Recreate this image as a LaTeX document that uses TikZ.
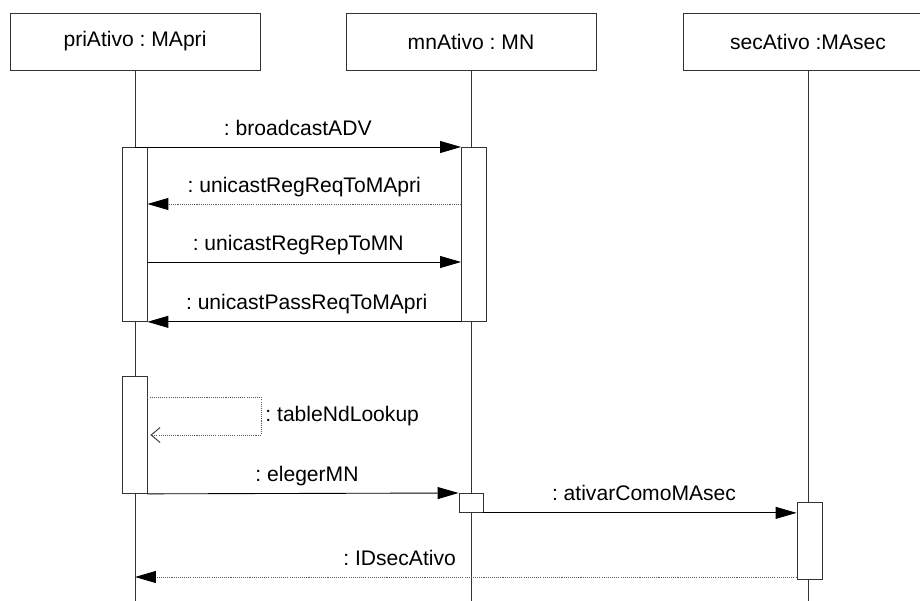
\documentclass[tikz,border=0pt]{standalone}
\usepackage{fontspec}
\setmainfont{Liberation Sans}
\usetikzlibrary{positioning}
\usetikzlibrary{arrows.meta}
\frenchspacing

\begin{document}
\begin{tikzpicture}[x=0.02cm, y=-0.02cm, line width=0.5pt,
    obj/.style={draw=black!80, minimum width=5cm, minimum height=1.14cm, inner sep=0pt, font=\fontsize{12}{14}\selectfont},
    life/.style={draw=black!80},
    act/.style={draw=black!80, fill=white, minimum width=0.5cm, inner sep=0pt},
    call/.style={draw=black, -{Triangle[length=0.42cm, width=0.24cm]}},
    reply/.style={draw=black!65, dash pattern=on 0.6pt off 0.6pt, -{Triangle[length=0.42cm, width=0.24cm, color=black]}},
    selfcall/.style={draw=black!65, dash pattern=on 0.6pt off 0.6pt, -{Straight Barb[length=0.18cm, width=0.3cm, color=black!80]}},
    lbl/.style={anchor=base, yshift=0.24cm, inner sep=0pt, font=\fontsize{12}{14}\selectfont}]

\useasboundingbox (0,0) rectangle (920,601);

% objects
{
\node[obj] (pri) at (135,41.5) {priAtivo : MApri};
\node[obj] (mn) at (471,41.5) {mnAtivo : MN};
\node[obj] (sec) at (808,41.5) {secAtivo :MAsec};

\coordinate (priEnd) at (135,601);
\coordinate (mnEnd) at (471,601);
\coordinate (secEnd) at (808,601);

\draw[life] (pri.south) -- (priEnd);
\draw[life] (mn.south) -- (mnEnd);
\draw[life] (sec.south) -- (secEnd);
}

% activations
{
\node[act, anchor=north, minimum height=3.48cm] (priAct1) at (134.5,147) {};
\node[act, anchor=north, minimum height=3.48cm] (mnAct1) at (474,147) {};
\node[act, anchor=north, minimum height=2.34cm] (priAct2) at (134.5,376) {};
\node[act, anchor=north, minimum height=0.38cm, minimum width=0.48cm] (mnAct2) at (471,493) {};
\node[act, anchor=north, minimum height=1.54cm] (secAct) at (809.5,502) {};
}

% messages
{
\draw[call] (priAct1.north) -- node[lbl] {: broadcastADV} (mnAct1.north west);

\draw[reply] (mnAct1.west |- 0,204) -- node[lbl] {: unicastRegReqToMApri} (priAct1.east |- 0,204);

\draw[call] (priAct1.east |- 0,262) -- node[lbl, xshift=-0.12cm] {: unicastRegRepToMN} (mnAct1.west |- 0,262);

\draw[call] (mnAct1.south west) -- node[lbl, xshift=0.05cm] {: unicastPassReqToMApri} (priAct1.south east);

%self call
\draw[selfcall] (priAct2.east |- 0,397) -| (261,435)
    node[pos=0.75, anchor=west, inner sep=0pt, xshift=0.08cm, font=\fontsize{12}{14}\selectfont] (lookup) {: tableNdLookup}
    -- ([xshift=0.06cm]priAct2.east |- 0,435);

\draw[call] (priAct2.south east) -- node[lbl, xshift=0.08cm] {: elegerMN} (mnAct2.north west);

\draw[call] (mnAct2.south east) -- node[lbl, xshift=0.08cm] {: ativarComoMAsec} (secAct.west |- mnAct2.south);

\draw[reply] (secAct.west |- 0,577) -- node[lbl, pos=0.6] {: IDsecAtivo} (pri |- 0,577);
}

\end{tikzpicture}
\end{document}
